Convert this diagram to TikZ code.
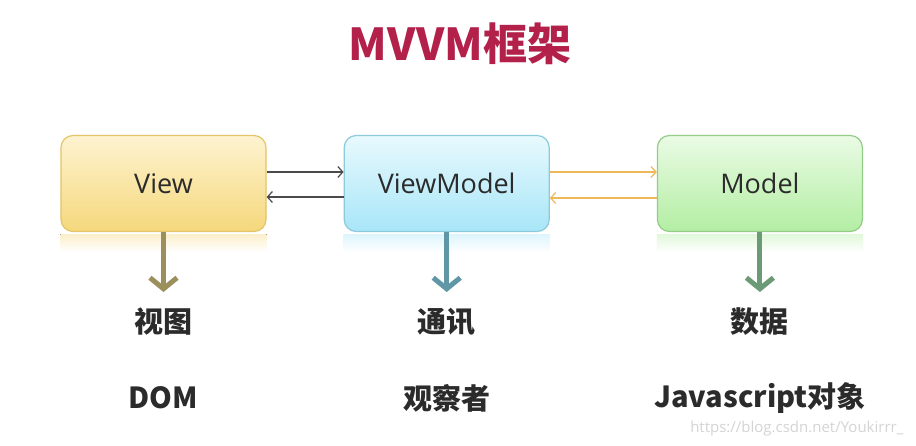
\documentclass[tikz,border=0pt]{standalone}
\usepackage{fontspec}
\setmainfont{Open Sans}
\newfontfamily\cjk{Noto Sans CJK SC}
\usepackage{tikz}
\usetikzlibrary{arrows.meta,positioning}
\definecolor{titlered}{HTML}{B3204A}
\definecolor{inktext}{HTML}{2B2B2B}
\definecolor{viewtop}{HTML}{FDF3D0}
\definecolor{viewbot}{HTML}{F5D87C}
\definecolor{viewline}{HTML}{E3C466}
\definecolor{vmtop}{HTML}{E8F9FD}
\definecolor{vmbot}{HTML}{A8E6F8}
\definecolor{vmline}{HTML}{8CCADC}
\definecolor{modeltop}{HTML}{EAFBE5}
\definecolor{modelbot}{HTML}{B3EEA3}
\definecolor{modelline}{HTML}{93CC86}
\definecolor{grayarr}{HTML}{4A4A4A}
\definecolor{goldarr}{HTML}{EDB95A}
\definecolor{olivearr}{HTML}{9B8F5C}
\definecolor{tealarr}{HTML}{5F97A6}
\definecolor{greenarr}{HTML}{6C9A77}

\begin{document}
\begin{tikzpicture}[
  x=1pt,y=-1pt,
  font=\fontsize{27}{30}\selectfont,
  box/.style={draw,line width=1.2pt,rounded corners=12pt,align=center,minimum width=205pt,minimum height=96pt,text=inktext},
  arr/.style={-{Straight Barb[length=5pt,width=11pt]},line width=1.2pt},
  downarr/.style={-{Straight Barb[length=11pt,width=27pt]},line width=5pt},
  lbl/.style={font=\cjk\bfseries\fontsize{29}{32}\selectfont,text=inktext}
]
\useasboundingbox[fill=white] (0,0) rectangle (916,445);
\node[font=\cjk\bfseries\fontsize{44}{48}\selectfont,text=titlered] (title) at (460,44) {MVVM框架};
\node[box,draw=viewline,top color=viewtop,bottom color=viewbot] (view) at (163.5,183.5) {View};
\node[box,draw=vmline,top color=vmtop,bottom color=vmbot,right=77pt of view] (viewmodel) {ViewModel};
\node[box,draw=modelline,top color=modeltop,bottom color=modelbot,right=107pt of viewmodel] (model) {Model};
% faint reflections under the boxes
\fill[top color=viewbot!40,bottom color=white] ([yshift=-2pt]view.south west) rectangle ([yshift=-20pt]view.south east);
\fill[top color=vmbot!40,bottom color=white] ([yshift=-2pt]viewmodel.south west) rectangle ([yshift=-20pt]viewmodel.south east);
\fill[top color=modelbot!40,bottom color=white] ([yshift=-2pt]model.south west) rectangle ([yshift=-20pt]model.south east);
\draw[arr,grayarr] ([yshift=11.5pt]view.east) -- ([yshift=11.5pt]viewmodel.west);
\draw[arr,grayarr] ([yshift=-13.5pt]viewmodel.west) -- ([yshift=-13.5pt]view.east);
\draw[arr,goldarr] ([yshift=11.5pt]viewmodel.east) -- ([yshift=11.5pt]model.west);
\draw[arr,goldarr] ([yshift=-14.5pt]model.west) -- ([yshift=-14.5pt]viewmodel.east);
\coordinate (viewtip) at (view.south |- 0,292);
\coordinate (vmtip) at (viewmodel.south |- 0,292);
\coordinate (modeltip) at (model.south |- 0,292);
\draw[downarr,olivearr] (view.south) -- (viewtip);
\draw[downarr,tealarr] (viewmodel.south) -- (vmtip);
\draw[downarr,greenarr] (model.south) -- (modeltip);
\node[lbl] (viewname) at (view.south |- 0,322) {视图};
\node[lbl] (vmname) at (viewmodel.south |- 0,322) {通讯};
\node[lbl] (modelname) at (model.south |- 0,322) {数据};
\node[lbl] (viewrole) at (view.south |- 0,398) {DOM};
\node[lbl] (vmrole) at (viewmodel.south |- 0,398) {观察者};
\node[lbl] (modelrole) at (model.south |- 0,398) {Javascript对象};
\node[font=\fontsize{15}{17}\selectfont,text=black!17,anchor=east] (mark) at (907,429) {https://blog.csdn.net/Youkirrr\_};
\end{tikzpicture}
\end{document}
